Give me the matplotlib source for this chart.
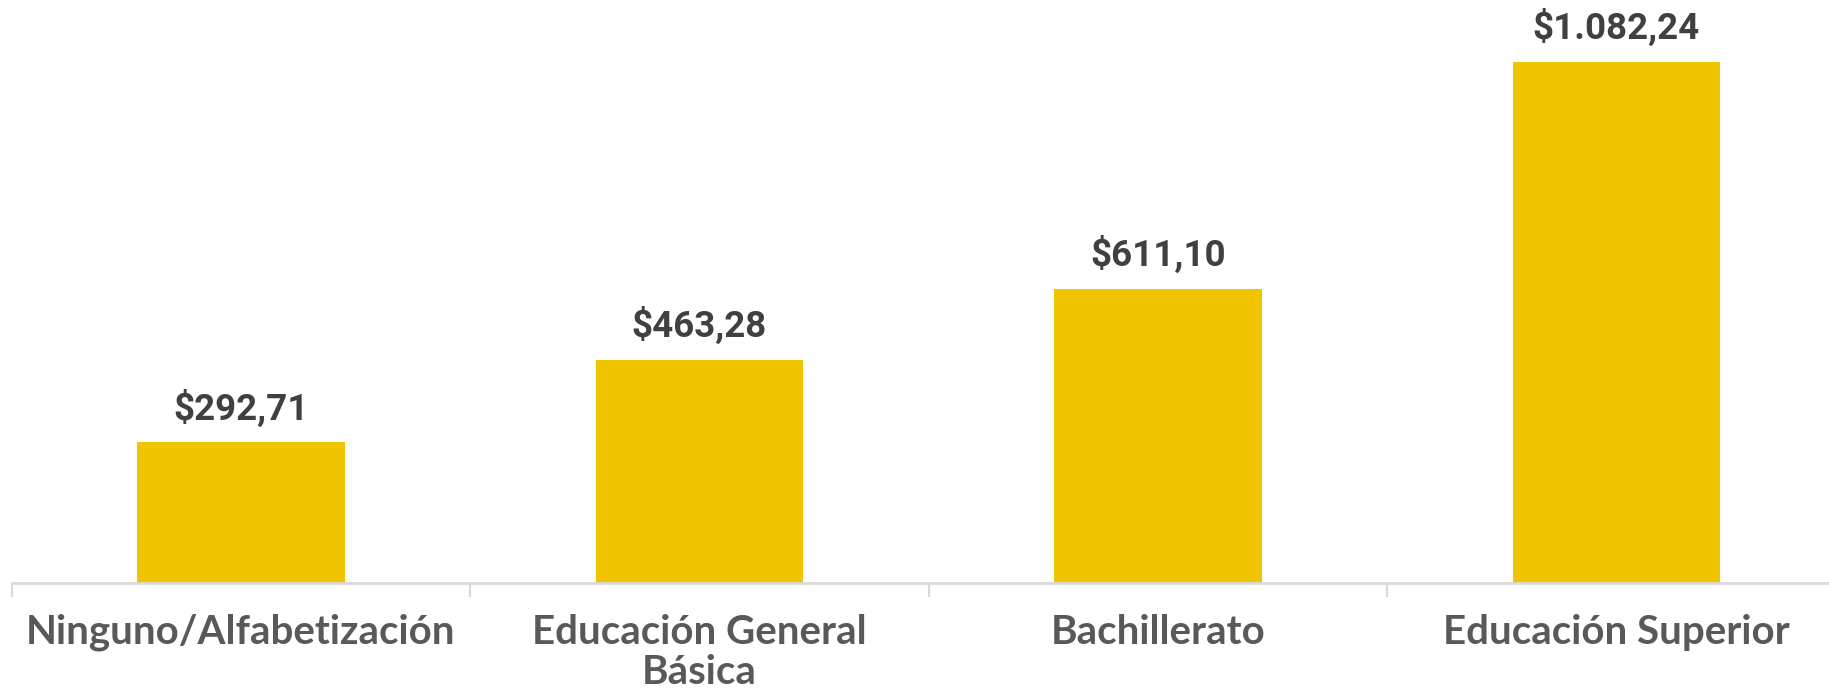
import matplotlib.pyplot as plt

# datos
categorias = ["Ninguno/Alfabetización", "Educación General\nBásica", "Bachillerato", "Educación Superior"]
valores = [292.71, 463.28, 611.10, 1082.24]
etiquetas = ["$292,71", "$463,28", "$611,10", "$1.082,24"]

fig = plt.figure(figsize=(18.29, 6.94), dpi=100)
ax = fig.add_axes([11.7 / 1829, (694 - 583) / 694, 1834 / 1829, 583 / 694])

x = range(len(categorias))
ax.bar(x, valores, width=0.453, color="#F0C500")
ax.set_xlim(-0.5, 3.5)
ax.set_ylim(0, 1210)

for xi, v, lab in zip(x, valores, etiquetas):
    ax.text(xi, v + 30, lab, ha="center", va="bottom", fontsize=26.5,
            fontweight="bold", family="Roboto", color="#404040")

for s in ["top", "right", "left"]:
    ax.spines[s].set_visible(False)
ax.spines["bottom"].set_color("#D9D9D9")
ax.spines["bottom"].set_linewidth(2)
ax.set_yticks([])
ax.set_xticks([-0.5, 0.5, 1.5, 2.5, 3.5])
ax.set_xticklabels([])
ax.tick_params(axis="x", length=10, width=1.5, color="#D9D9D9")
ax.set_xticks(list(x), minor=True)
ax.set_xticklabels(categorias, minor=True, fontsize=29, fontweight="bold",
                   family="Lato", color="#595959", linespacing=1.12, va="top")
ax.tick_params(axis="x", which="minor", length=0, pad=22)

plt.savefig("out.png")
